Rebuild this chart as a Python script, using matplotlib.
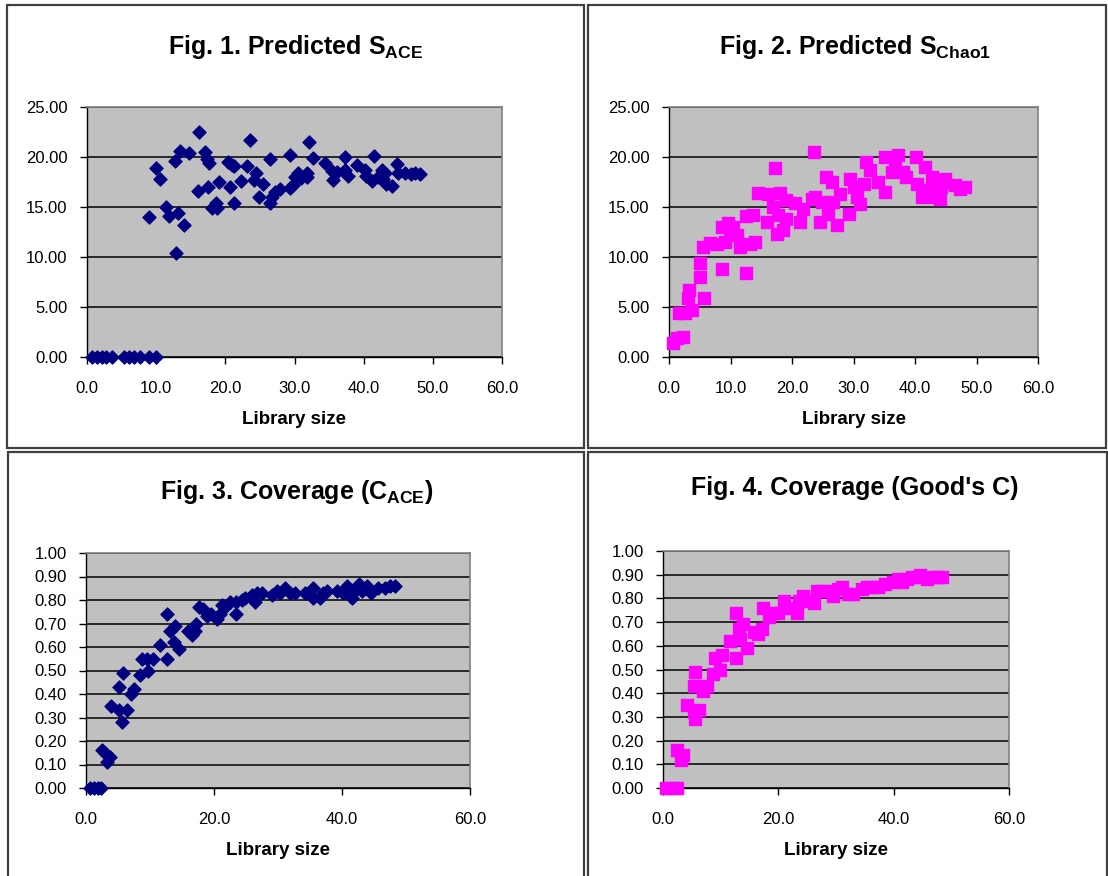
import matplotlib
matplotlib.use("Agg")
import matplotlib.pyplot as plt
from matplotlib.patches import Rectangle
from matplotlib.ticker import FormatStrFormatter, MultipleLocator

plt.rcParams['font.family'] = ['Liberation Sans', 'DejaVu Sans']
plt.rcParams['mathtext.fontset'] = 'custom'
plt.rcParams['mathtext.rm'] = 'Liberation Sans'
plt.rcParams['mathtext.bf'] = 'Liberation Sans:bold'

# Fig. 1 - predicted S_ACE vs library size
ace_x = [0.7, 1.5, 2.2, 2.8, 3.6, 5.3, 6.0, 6.8, 7.6, 8.9, 10.0,
         9.0, 10.0, 10.5, 11.4, 11.8, 12.7, 12.8, 13.1, 13.5, 14.0, 14.7,
         16.2, 16.1, 17.1, 17.3, 17.5, 17.7, 18.0, 18.7, 18.8, 19.1, 20.4,
         20.7, 20.9, 21.3, 21.3, 22.2, 23.1, 23.6, 24.1, 24.4, 24.8, 25.5,
         26.5, 26.5, 26.7, 27.2, 27.9, 29.3, 29.3, 29.8, 30.1, 30.5, 31.0,
         31.8, 32.1, 31.8, 32.7, 34.4, 35.4, 35.5, 36.1, 37.3, 37.3, 37.8,
         39.0, 40.2, 40.4, 41.2, 41.5, 42.1, 42.6, 42.8, 43.1, 43.2, 44.1,
         44.8, 45.0, 46.0, 46.9, 47.4, 48.2]
ace_s = [0.0, 0.0, 0.0, 0.0, 0.0, 0.0, 0.0, 0.0, 0.0, 0.0, 0.0,
         14.0, 18.9, 17.8, 15.0, 14.1, 19.6, 10.4, 14.4, 20.6, 13.2, 20.4,
         22.5, 16.6, 20.5, 19.8, 17.0, 19.4, 14.9, 15.4, 14.9, 17.5, 19.5,
         17.0, 19.2, 19.1, 15.4, 17.6, 19.1, 21.7, 17.7, 18.4, 16.0, 17.3,
         19.8, 15.4, 16.0, 16.5, 16.8, 20.2, 16.9, 17.2, 18.0, 18.4, 17.9,
         18.0, 21.5, 18.4, 19.9, 19.4, 18.6, 17.7, 18.5, 20.0, 18.7, 18.1,
         19.2, 18.7, 18.1, 17.6, 20.1, 18.0, 18.7, 17.8, 18.4, 17.3, 17.1,
         19.3, 18.4, 18.4, 18.3, 18.4, 18.3]

# Fig. 2 - predicted S_Chao1 vs library size
chao_x = [0.7, 1.3, 2.2, 1.7, 2.6, 3.7, 3.3, 3.1, 5.7, 5.1, 5.1, 5.6,
          6.7, 7.8, 8.6, 8.6, 9.1, 9.6, 9.9, 10.4, 11.0, 11.5, 12.6, 12.6,
          13.7, 13.2, 14.0, 14.5, 15.9, 16.1, 17.2, 16.9, 17.5, 17.8, 18.6,
          19.1, 18.1, 19.1, 20.5, 21.3, 21.8, 23.2, 23.5, 23.7, 24.6, 24.8,
          25.6, 25.9, 26.5, 26.7, 27.3, 27.8, 29.2, 29.4, 30.0, 30.5, 31.1,
          31.7, 32.1, 32.7, 34.0, 35.1, 35.1, 36.2, 36.7, 37.3, 38.1, 38.6,
          40.1, 40.3, 41.1, 41.6, 42.4, 42.7, 43.3, 44.1, 44.3, 44.9, 44.6,
          46.5, 47.3, 48.1]
chao_s = [1.4, 1.9, 2.0, 4.4, 4.4, 4.7, 6.7, 5.9, 5.9, 8.0, 9.4, 11.0,
          11.4, 11.3, 8.8, 13.0, 11.5, 13.4, 12.3, 13.0, 12.2, 11.0, 8.4, 14.1,
          14.2, 11.3, 11.5, 16.4, 13.5, 16.3, 18.9, 15.0, 12.3, 14.2, 12.7,
          13.8, 16.4, 15.7, 15.4, 13.5, 14.8, 15.8, 20.5, 16.0, 13.5, 15.5,
          18.0, 14.3, 17.5, 15.5, 13.2, 16.3, 14.3, 17.8, 17.0, 16.0, 15.3,
          17.3, 19.5, 18.7, 17.5, 16.5, 20.0, 18.5, 19.8, 20.2, 18.5, 18.0,
          20.0, 17.3, 16.0, 19.0, 16.7, 18.0, 16.0, 15.8, 17.0, 17.8, 17.5,
          17.2, 16.8, 17.0]

# Fig. 3 - coverage C_ACE vs library size
cace_x = [0.6, 1.2, 1.8, 2.3, 2.5, 3.0, 3.3, 3.7, 3.9, 5.1, 5.2, 5.6,
          5.8, 6.4, 7.1, 7.5, 8.5, 8.7, 9.7, 9.6, 10.5, 11.5, 12.6, 12.7,
          13.1, 13.9, 13.7, 14.6, 16.0, 16.5, 17.0, 17.2, 17.7, 18.3, 18.9,
          19.6, 20.4, 20.9, 21.2, 21.7, 22.5, 23.5, 23.5, 24.3, 24.8, 25.9,
          26.4, 26.7, 27.5, 29.0, 29.8, 30.3, 31.1, 31.9, 32.7, 34.2, 34.7,
          35.5, 35.5, 36.6, 37.1, 37.6, 39.2, 40.2, 40.8, 41.5, 42.0, 42.6,
          43.1, 43.9, 44.6, 45.7, 46.7, 47.5, 48.3]
cace_c = [0.0, 0.0, 0.0, 0.0, 0.16, 0.15, 0.11, 0.13, 0.35, 0.33, 0.43, 0.28,
          0.49, 0.33, 0.40, 0.42, 0.48, 0.55, 0.50, 0.55, 0.55, 0.61, 0.55, 0.74,
          0.67, 0.69, 0.62, 0.59, 0.67, 0.65, 0.67, 0.70, 0.77, 0.76, 0.73,
          0.74, 0.72, 0.74, 0.78, 0.77, 0.79, 0.74, 0.79, 0.80, 0.81, 0.82,
          0.79, 0.83, 0.83, 0.82, 0.84, 0.83, 0.85, 0.83, 0.83, 0.83, 0.83,
          0.85, 0.81, 0.81, 0.83, 0.84, 0.84, 0.83, 0.86, 0.81, 0.84, 0.87,
          0.84, 0.86, 0.83, 0.85, 0.85, 0.86, 0.86]

# Fig. 4 - Good's coverage vs library size
good_x = [0.5, 1.5, 2.4, 2.5, 3.2, 3.5, 4.1, 5.6, 5.3, 5.4, 5.6, 6.3,
          7.0, 7.6, 8.6, 9.0, 9.9, 10.2, 11.6, 12.7, 12.7, 13.1, 13.4, 13.9,
          14.6, 15.7, 16.5, 17.1, 17.4, 18.3, 19.1, 20.0, 20.9, 21.7, 23.2,
          23.5, 24.3, 25.2, 26.1, 26.7, 27.5, 28.7, 29.5, 30.4, 31.0, 32.1,
          33.0, 34.5, 35.3, 36.2, 37.3, 38.5, 39.9, 40.8, 41.4, 42.3, 43.1,
          44.0, 44.6, 45.7, 46.6, 47.5, 48.3]
good_c = [0.0, 0.0, 0.0, 0.16, 0.12, 0.14, 0.35, 0.49, 0.43, 0.32, 0.29, 0.33,
          0.41, 0.43, 0.48, 0.55, 0.50, 0.56, 0.62, 0.55, 0.74, 0.67, 0.63, 0.69,
          0.59, 0.66, 0.65, 0.67, 0.76, 0.72, 0.74, 0.74, 0.79, 0.76, 0.74,
          0.79, 0.81, 0.79, 0.78, 0.83, 0.83, 0.83, 0.81, 0.84, 0.85, 0.82,
          0.82, 0.84, 0.85, 0.85, 0.85, 0.86, 0.87, 0.88, 0.87, 0.88, 0.89,
          0.89, 0.90, 0.88, 0.89, 0.89, 0.89]

W, H = 1108, 876
fig = plt.figure(figsize=(W / 100, H / 100), dpi=100)
fig.patch.set_facecolor('white')


def px_axes(x0, y0, x1, y1):
    # pixel box (top-left origin) -> axes
    return fig.add_axes([x0 / W, 1 - y1 / H, (x1 - x0) / W, (y1 - y0) / H])


def frame(x0, y0, x1, y1):
    fig.patches.append(Rectangle((x0 / W, 1 - y1 / H), (x1 - x0) / W, (y1 - y0) / H,
                                 transform=fig.transFigure, fill=False,
                                 edgecolor='#404040', linewidth=1.6))


frame(7, 5, 584, 448)
frame(588, 5, 1106, 448)
frame(8, 452, 584, 880)
frame(588, 452, 1107, 880)


def style(ax, ymax, ystep, xstep, yfmt):
    ax.set_facecolor('#c0c0c0')
    ax.set_xlim(0, 60)
    ax.set_ylim(0, ymax)
    ax.xaxis.set_major_locator(MultipleLocator(xstep))
    ax.yaxis.set_major_locator(MultipleLocator(ystep))
    ax.xaxis.set_major_formatter(FormatStrFormatter('%.1f'))
    ax.yaxis.set_major_formatter(FormatStrFormatter(yfmt))
    ax.grid(axis='y', color='black', linewidth=1.1)
    ax.set_axisbelow(True)
    for s in ['top', 'right']:
        ax.spines[s].set_color('#808080')
        ax.spines[s].set_linewidth(1.2)
    for s in ['left', 'bottom']:
        ax.spines[s].set_color('black')
        ax.spines[s].set_linewidth(1.0)
    ax.tick_params(axis='both', direction='out', length=5, width=1,
                   labelsize=12, colors='black')
    ax.tick_params(axis='x', pad=12)
    ax.tick_params(axis='y', pad=9)
    ax.set_xlabel('Library size', fontsize=13.5, fontweight='bold', labelpad=11)


navy = '#000080'
magenta = '#ff00ff'

ax1 = px_axes(87, 107, 502, 357)
ax1.scatter(ace_x, ace_s, marker='D', s=44, color=navy, zorder=3, clip_on=False)
style(ax1, 25, 5, 10, '%.2f')

ax2 = px_axes(669, 107, 1038, 357)
ax2.scatter(chao_x, chao_s, marker='s', s=70, color=magenta, zorder=3, clip_on=False)
style(ax2, 25, 5, 10, '%.2f')

ax3 = px_axes(86, 553, 470, 788)
ax3.scatter(cace_x, cace_c, marker='D', s=44, color=navy, zorder=3, clip_on=False)
style(ax3, 1.0, 0.1, 20, '%.2f')

ax4 = px_axes(663, 551, 1009, 788)
ax4.scatter(good_x, good_c, marker='s', s=70, color=magenta, zorder=3, clip_on=False)
style(ax4, 1.0, 0.1, 20, '%.2f')

tkw = dict(fontsize=18, fontweight='bold', ha='center', va='center')
fig.text(296 / W, 1 - 47 / H, r'Fig. 1. Predicted S$_\mathbf{ACE}$', **tkw)
fig.text(855 / W, 1 - 47 / H, r'Fig. 2. Predicted S$_\mathbf{Chao1}$', **tkw)
fig.text(297 / W, 1 - 492 / H, r'Fig. 3. Coverage (C$_\mathbf{ACE}$)', **tkw)
fig.text(855 / W, 1 - 488 / H, "Fig. 4. Coverage (Good's C)", **tkw)

fig.savefig('out.png', dpi=100)
